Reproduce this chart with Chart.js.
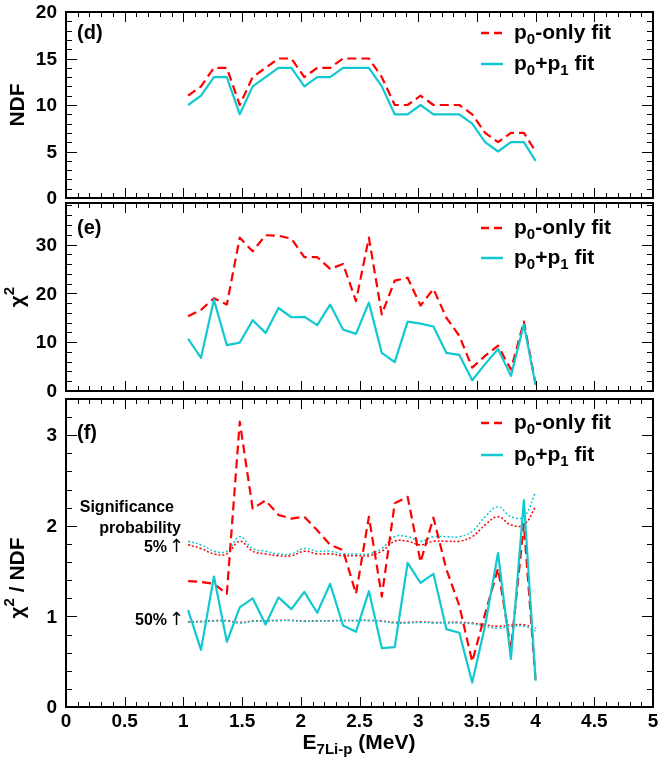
<!DOCTYPE html>
<html lang="en">
  <head>
    <meta charset="utf-8" />
    <title>NDF and chi2 of p0-only and p0+p1 fits</title>
    <style>
      * {
        margin: 0;
        padding: 0;
      }
      body {
        width: 662px;
        height: 764px;
        background: white;
        position: relative;
        overflow: hidden;
      }
      canvas {
        position: absolute;
        left: 0;
      }
    </style>
  </head>
  <body>
    <canvas id="panelD" width="662" height="215" style="top: 0px"></canvas>
    <canvas id="panelE" width="662" height="210" style="top: 200px"></canvas>
    <canvas id="panelF" width="662" height="369" style="top: 395px"></canvas>

    <script src="https://cdn.jsdelivr.net/npm/chart.js"></script>
    <script>
      // energy bins (MeV)
      const energy = [
        1.04, 1.15, 1.26, 1.37, 1.48, 1.59, 1.7, 1.81, 1.92, 2.03, 2.14, 2.25,
        2.36, 2.47, 2.58, 2.69, 2.8, 2.91, 3.02, 3.13, 3.24, 3.35, 3.46, 3.57,
        3.68, 3.79, 3.9, 4.0,
      ];

      // (d) NDF
      const ndfOnly = [
        11, 12, 14, 14, 10, 13, 14, 15, 15, 13, 14, 14, 15, 15, 15, 13, 10, 10,
        11, 10, 10, 10, 9, 7, 6, 7, 7, 5,
      ];
      const ndfBoth = [
        10, 11, 13, 13, 9, 12, 13, 14, 14, 12, 13, 13, 14, 14, 14, 12, 9, 9, 10,
        9, 9, 9, 8, 6, 5, 6, 6, 4,
      ];

      // (e) chi2
      const chi2Only = [
        15.3, 16.6, 19.0, 17.7, 31.4, 28.6, 31.9, 31.8, 31.2, 27.4, 27.4, 25.0,
        26.0, 18.4, 31.4, 15.7, 22.6, 23.2, 17.5, 20.9, 15.0, 11.3, 4.8, 7.2,
        9.3, 4.4, 14.2, 1.4,
      ];
      const chi2Both = [
        10.7, 6.8, 18.7, 9.4, 9.9, 14.5, 11.9, 17.0, 15.1, 15.2, 13.5, 17.7,
        12.6, 11.7, 18.1, 7.8, 5.9, 14.2, 13.8, 13.2, 7.8, 7.4, 2.2, 5.5, 8.6,
        3.1, 13.6, 1.2,
      ];

      // (f) chi2 / NDF
      const ratioOnly = [
        1.39, 1.38, 1.36, 1.25, 3.15, 2.19, 2.28, 2.12, 2.08, 2.1, 1.95, 1.79,
        1.73, 1.25, 2.1, 1.22, 2.25, 2.32, 1.6, 2.09, 1.52, 1.12, 0.5, 1.03,
        1.53, 0.64, 2.02, 0.29,
      ];
      const ratioBoth = [
        1.07, 0.63, 1.44, 0.72, 1.1, 1.2, 0.91, 1.21, 1.08, 1.27, 1.04, 1.36,
        0.9, 0.83, 1.28, 0.65, 0.66, 1.59, 1.37, 1.47, 0.86, 0.82, 0.27, 0.9,
        1.7, 0.53, 2.28, 0.29,
      ];

      // significance probability levels (per NDF)
      const sig5Only = [
        1.79, 1.75, 1.69, 1.69, 1.83, 1.72, 1.69, 1.67, 1.67, 1.72, 1.69, 1.69,
        1.67, 1.67, 1.67, 1.72, 1.83, 1.83, 1.79, 1.83, 1.83, 1.83, 1.88, 2.01,
        2.1, 2.01, 2.01, 2.21,
      ];
      const sig5Both = [
        1.83, 1.79, 1.72, 1.72, 1.88, 1.75, 1.72, 1.69, 1.69, 1.75, 1.72, 1.72,
        1.69, 1.69, 1.69, 1.75, 1.88, 1.88, 1.83, 1.88, 1.88, 1.88, 1.94, 2.1,
        2.21, 2.1, 2.1, 2.37,
      ];
      const sig50Only = [
        0.94, 0.945, 0.953, 0.953, 0.934, 0.949, 0.953, 0.956, 0.956, 0.949,
        0.953, 0.953, 0.956, 0.956, 0.956, 0.949, 0.934, 0.934, 0.94, 0.934,
        0.934, 0.934, 0.927, 0.907, 0.891, 0.907, 0.907, 0.87,
      ];
      const sig50Both = [
        0.934, 0.94, 0.949, 0.949, 0.927, 0.945, 0.949, 0.953, 0.953, 0.945,
        0.949, 0.949, 0.953, 0.953, 0.953, 0.945, 0.927, 0.927, 0.934, 0.927,
        0.927, 0.927, 0.918, 0.891, 0.87, 0.891, 0.891, 0.839,
      ];

      // tick labels
      const xTickLabels = ["0", "0.5", "1", "1.5", "2", "2.5", "3", "3.5", "4", "4.5", "5"];
      const dTickLabels = [0, 5, 10, 15, 20];
      const eTickLabels = [0, 10, 20, 30];
      const fTickLabels = [0, 1, 2, 3];

      const RED = "#ff0000";
      const CYAN = "#12c8d0";
      const FONT = '"Liberation Sans", Arial, Helvetica, sans-serif';

      function pts(ys) {
        return energy.map((x, i) => ({ x: x, y: ys[i] }));
      }

      // text with sub/superscripts: parts = [[text, 'n'|'b'|'p'], ...]
      function richText(ctx, parts, x, y, align, size) {
        const fontFor = (k) =>
          "bold " + (k === "n" ? size : Math.round(size * 0.72)) + "px " + FONT;
        let w = 0;
        parts.forEach(([t, k]) => {
          ctx.font = fontFor(k);
          w += ctx.measureText(t).width;
        });
        let cx = align === "right" ? x - w : align === "center" ? x - w / 2 : x;
        ctx.textAlign = "left";
        ctx.textBaseline = "middle";
        parts.forEach(([t, k]) => {
          ctx.font = fontFor(k);
          const dy = k === "b" ? size * 0.32 : k === "p" ? -size * 0.38 : 0;
          ctx.fillText(t, cx, y + dy);
          cx += ctx.measureText(t).width;
        });
      }

      function seg(ctx, x1, y1, x2, y2) {
        ctx.beginPath();
        ctx.moveTo(x1, y1);
        ctx.lineTo(x2, y2);
        ctx.stroke();
      }

      function levelLabel(ctx, text, y) {
        richText(ctx, [[text, "n"]], 167, y, "right", 16);
        ctx.font = '18px "DejaVu Sans", sans-serif';
        ctx.textAlign = "left";
        ctx.textBaseline = "middle";
        ctx.fillText("\u2191", 169, y - 1);
      }

      // ROOT-like frame, inward ticks, labels and legend
      const rootFrame = {
        id: "rootFrame",
        afterDraw(chart, args, o) {
          const ctx = chart.ctx;
          const a = chart.chartArea;
          const x = chart.scales.x;
          const y = chart.scales.y;
          ctx.save();
          ctx.strokeStyle = "#000";
          ctx.fillStyle = "#000";
          ctx.lineWidth = 1;

          // x ticks, top and bottom
          for (let i = 0; i <= 50; i++) {
            const px = Math.round(x.getPixelForValue(i / 10)) + 0.5;
            const len = i % 5 === 0 ? 10 : 5;
            seg(ctx, px, a.bottom, px, a.bottom - len);
            seg(ctx, px, a.top, px, a.top + len);
          }
          // y ticks, left and right
          const nMinor = Math.floor(o.yMax / o.yMinor + 1e-6);
          for (let i = 0; i <= nMinor; i++) {
            const v = i * o.yMinor;
            const py = Math.round(y.getPixelForValue(v)) + 0.5;
            const len = i % o.perMajor === 0 ? 11 : 6;
            seg(ctx, a.left, py, a.left + len, py);
            seg(ctx, a.right, py, a.right - len, py);
          }

          // frame
          ctx.lineWidth = 2;
          ctx.strokeRect(a.left, a.top, a.right - a.left, a.bottom - a.top);

          // y tick labels
          ctx.font = "bold 19px " + FONT;
          ctx.textAlign = "right";
          ctx.textBaseline = "middle";
          o.yLabels.forEach((v) => {
            ctx.fillText(String(v), a.left - 9, y.getPixelForValue(v) + 1);
          });

          // y title
          ctx.save();
          ctx.translate(18, o.titleY);
          ctx.rotate(-Math.PI / 2);
          richText(ctx, o.title, 0, 0, "center", 21);
          ctx.restore();

          // panel tag
          ctx.font = "bold 20px " + FONT;
          ctx.textAlign = "left";
          ctx.textBaseline = "middle";
          ctx.fillText(o.tag, 77, o.tagY);

          // legend
          ctx.lineWidth = 2.5;
          ctx.strokeStyle = RED;
          ctx.setLineDash([8, 5]);
          seg(ctx, 481, o.legY[0], 503, o.legY[0]);
          ctx.setLineDash([]);
          ctx.strokeStyle = CYAN;
          seg(ctx, 481, o.legY[1], 503, o.legY[1]);
          richText(ctx, [["p", "n"], ["0", "b"], ["-only fit", "n"]], 514, o.legY[0], "left", 21);
          richText(ctx, [["p", "n"], ["0", "b"], ["+p", "n"], ["1", "b"], [" fit", "n"]], 514, o.legY[1], "left", 21);

          if (o.bottomAxis) {
            ctx.font = "bold 19px " + FONT;
            ctx.textAlign = "center";
            ctx.textBaseline = "top";
            xTickLabels.forEach((t) => {
              ctx.fillText(t, x.getPixelForValue(parseFloat(t)), a.bottom + 5);
            });
            richText(ctx, [["E", "n"], ["7Li-p", "b"], [" (MeV)", "n"]], 359, 348, "center", 21);

            // significance annotations
            richText(ctx, [["Significance", "n"]], 174, 113, "right", 16);
            richText(ctx, [["probability", "n"]], 181, 134, "right", 16);
            levelLabel(ctx, "5%", 153);
            levelLabel(ctx, "50%", 226);
          }
          ctx.restore();
        },
      };

      function mainLine(ys, color, dashed, order) {
        return {
          data: pts(ys),
          borderColor: color,
          borderWidth: 2.2,
          borderDash: dashed ? [9, 5] : [],
          borderJoinStyle: "round",
          tension: 0,
          fill: false,
          order: order,
        };
      }
      function dotLine(ys, color, order) {
        return {
          data: pts(ys),
          borderColor: color,
          borderWidth: 1.5,
          borderDash: [2, 2],
          tension: 0.4,
          fill: false,
          order: order,
        };
      }

      function makePanel(id, yMax, datasets, frame, pad) {
        return new Chart(document.getElementById(id), {
          type: "line",
          data: { datasets: datasets },
          options: {
            responsive: false,
            animation: false,
            devicePixelRatio: 1,
            layout: { padding: pad },
            elements: { point: { radius: 0 } },
            plugins: {
              legend: { display: false },
              tooltip: { enabled: false },
              rootFrame: Object.assign({ yMax: yMax }, frame),
            },
            scales: {
              x: { type: "linear", min: 0, max: 5, display: false },
              y: { type: "linear", min: 0, max: yMax, display: false },
            },
          },
          plugins: [rootFrame],
        });
      }

      // (d)
      makePanel(
        "panelD",
        20,
        [mainLine(ndfBoth, CYAN, false, 0), mainLine(ndfOnly, RED, true, 1)],
        {
          yMinor: 1,
          perMajor: 5,
          yLabels: dTickLabels,
          title: [["NDF", "n"]],
          titleY: 105,
          tag: "(d)",
          tagY: 33,
          legY: [33, 64],
        },
        { left: 66, right: 9, top: 12, bottom: 17 }
      );

      // (e)
      makePanel(
        "panelE",
        38.5,
        [mainLine(chi2Both, CYAN, false, 0), mainLine(chi2Only, RED, true, 1)],
        {
          yMinor: 2,
          perMajor: 5,
          yLabels: eTickLabels,
          title: [["\u03c7", "n"], ["2", "p"]],
          titleY: 97,
          tag: "(e)",
          tagY: 28,
          legY: [28, 58],
        },
        { left: 66, right: 9, top: 3, bottom: 19 }
      );

      // (f)
      makePanel(
        "panelF",
        3.4,
        [
          mainLine(ratioBoth, CYAN, false, 0),
          mainLine(ratioOnly, RED, true, 1),
          dotLine(sig5Both, CYAN, 2),
          dotLine(sig5Only, RED, 3),
          dotLine(sig50Both, CYAN, 4),
          dotLine(sig50Only, RED, 5),
        ],
        {
          yMinor: 0.2,
          perMajor: 5,
          yLabels: fTickLabels,
          title: [["\u03c7", "n"], ["2", "p"], [" / NDF", "n"]],
          titleY: 183,
          tag: "(f)",
          tagY: 38,
          legY: [28, 60],
          bottomAxis: true,
        },
        { left: 66, right: 9, top: 4, bottom: 57 }
      );
    </script>
  </body>
</html>
